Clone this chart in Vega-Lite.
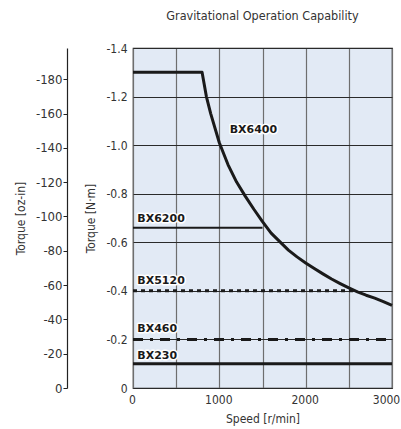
{
  "$schema": "https://vega.github.io/schema/vega-lite/v6.json",
  "autosize": "none",
  "width": 259,
  "height": 340,
  "padding": {"left": 133, "top": 48, "right": 9, "bottom": 41},
  "background": "white",
  "config": {
    "view": {"fill": "#e2eaf5", "stroke": "#222", "strokeWidth": 1.2},
    "font": "'DejaVu Sans Condensed', 'Roboto', sans-serif",
    "axis": {"labelFont": "'DejaVu Sans Condensed', 'Roboto', sans-serif", "titleFont": "'DejaVu Sans Condensed', 'Roboto', sans-serif", "labelFontSize": 12, "titleFontSize": 12, "titleFontWeight": "normal", "labelColor": "#333", "titleColor": "#333"}
  },
  "title": {"text": "Gravitational Operation Capability", "anchor": "middle", "fontSize": 12.5, "fontWeight": "normal", "font": "'DejaVu Sans Condensed', 'Roboto', sans-serif", "color": "#333", "offset": 20},
  "datasets": {
    "lines": [
      {"model": "BX6400", "speed": 0, "torque": -1.3},
      {"model": "BX6400", "speed": 800, "torque": -1.3},
      {"model": "BX6400", "speed": 850, "torque": -1.2},
      {"model": "BX6400", "speed": 900, "torque": -1.13},
      {"model": "BX6400", "speed": 1000, "torque": -1.01},
      {"model": "BX6400", "speed": 1100, "torque": -0.92},
      {"model": "BX6400", "speed": 1200, "torque": -0.848},
      {"model": "BX6400", "speed": 1300, "torque": -0.79},
      {"model": "BX6400", "speed": 1400, "torque": -0.736},
      {"model": "BX6400", "speed": 1500, "torque": -0.685},
      {"model": "BX6400", "speed": 1600, "torque": -0.638},
      {"model": "BX6400", "speed": 1700, "torque": -0.603},
      {"model": "BX6400", "speed": 1800, "torque": -0.568},
      {"model": "BX6400", "speed": 1900, "torque": -0.54},
      {"model": "BX6400", "speed": 2000, "torque": -0.515},
      {"model": "BX6400", "speed": 2100, "torque": -0.492},
      {"model": "BX6400", "speed": 2200, "torque": -0.47},
      {"model": "BX6400", "speed": 2300, "torque": -0.449},
      {"model": "BX6400", "speed": 2400, "torque": -0.43},
      {"model": "BX6400", "speed": 2500, "torque": -0.412},
      {"model": "BX6400", "speed": 2600, "torque": -0.396},
      {"model": "BX6400", "speed": 2700, "torque": -0.382},
      {"model": "BX6400", "speed": 2800, "torque": -0.37},
      {"model": "BX6400", "speed": 2900, "torque": -0.356},
      {"model": "BX6400", "speed": 3000, "torque": -0.34},
      {"model": "BX6200", "speed": 0, "torque": -0.66},
      {"model": "BX6200", "speed": 1500, "torque": -0.66},
      {"model": "BX5120", "speed": 0, "torque": -0.4},
      {"model": "BX5120", "speed": 2550, "torque": -0.4},
      {"model": "BX460", "speed": 0, "torque": -0.2},
      {"model": "BX460", "speed": 3000, "torque": -0.2},
      {"model": "BX230", "speed": 0, "torque": -0.1},
      {"model": "BX230", "speed": 3000, "torque": -0.1}
    ],
    "labels": [
      {"model": "BX6400", "speed": 1120, "torque": -1.062},
      {"model": "BX6200", "speed": 50, "torque": -0.696},
      {"model": "BX5120", "speed": 50, "torque": -0.442},
      {"model": "BX460", "speed": 50, "torque": -0.243},
      {"model": "BX230", "speed": 50, "torque": -0.132}
    ],
    "ozaxis": [
      {"oz": 0},
      {"oz": -198.2}
    ]
  },
  "layer": [
    {
      "layer": [
        {
          "data": {"name": "lines"},
          "transform": [{"filter": "datum.model == 'BX6400'"}],
          "mark": {"type": "line", "color": "#1a1a1a", "strokeWidth": 3, "strokeJoin": "round"},
          "encoding": {
            "x": {"field": "speed", "type": "quantitative", "scale": {"domain": [0, 3000], "nice": false},
              "axis": {"title": "Speed [r/min]", "values": [0, 500, 1000, 1500, 2000, 2500, 3000], "labelExpr": "datum.value % 1000 == 0 ? datum.value : ''", "labelOffset": {"condition": {"test": "datum.value == 3000", "value": -6}, "value": -1}, "ticks": false, "domain": false, "grid": true, "gridColor": "#6e6e6e", "gridWidth": 1.2, "gridOpacity": 1, "labelPadding": 6, "titlePadding": 8, "labelFlush": false}},
            "y": {"field": "torque", "type": "quantitative", "scale": {"domain": [-1.4, 0], "reverse": true, "nice": false},
              "axis": {"title": "Torque [N·m]", "values": [-1.4, -1.2, -1.0, -0.8, -0.6, -0.4, -0.2, 0], "labelExpr": "datum.value == 0 ? '0' : '-' + format(-datum.value, '.1f')", "ticks": false, "domain": false, "grid": true, "gridColor": "#2a2a2a", "gridWidth": 1.2, "gridOpacity": 1, "labelPadding": 6, "titlePadding": 8, "labelFlush": false}}
          }
        },
        {
          "data": {"name": "lines"},
          "transform": [{"filter": "datum.model == 'BX6200'"}],
          "mark": {"type": "line", "color": "#1a1a1a", "strokeWidth": 2},
          "encoding": {"x": {"field": "speed", "type": "quantitative"}, "y": {"field": "torque", "type": "quantitative"}}
        },
        {
          "data": {"name": "lines"},
          "transform": [{"filter": "datum.model == 'BX5120'"}],
          "mark": {"type": "line", "color": "#1a1a1a", "strokeWidth": 3, "strokeDash": [4, 4], "strokeCap": "butt"},
          "encoding": {"x": {"field": "speed", "type": "quantitative"}, "y": {"field": "torque", "type": "quantitative"}}
        },
        {
          "data": {"name": "lines"},
          "transform": [{"filter": "datum.model == 'BX460'"}],
          "mark": {"type": "line", "color": "#1a1a1a", "strokeWidth": 3, "strokeDash": [10, 7, 3, 7], "strokeCap": "butt"},
          "encoding": {"x": {"field": "speed", "type": "quantitative"}, "y": {"field": "torque", "type": "quantitative"}}
        },
        {
          "data": {"name": "lines"},
          "transform": [{"filter": "datum.model == 'BX230'"}],
          "mark": {"type": "line", "color": "#1a1a1a", "strokeWidth": 3},
          "encoding": {"x": {"field": "speed", "type": "quantitative"}, "y": {"field": "torque", "type": "quantitative"}}
        },
        {
          "data": {"name": "labels"},
          "mark": {"type": "text", "align": "left", "baseline": "middle", "font": "DejaVu Sans", "fontWeight": "bold", "fontSize": 11, "stroke": "white", "strokeWidth": 3, "strokeJoin": "round", "fill": "white"},
          "encoding": {"x": {"field": "speed", "type": "quantitative"}, "y": {"field": "torque", "type": "quantitative"}, "text": {"field": "model"}}
        },
        {
          "data": {"name": "labels"},
          "mark": {"type": "text", "align": "left", "baseline": "middle", "font": "DejaVu Sans", "fontWeight": "bold", "fontSize": 11, "fill": "#1a1a1a"},
          "encoding": {"x": {"field": "speed", "type": "quantitative"}, "y": {"field": "torque", "type": "quantitative"}, "text": {"field": "model"}}
        }
      ]
    },
    {
      "data": {"name": "ozaxis"},
      "mark": {"type": "point", "opacity": 0},
      "encoding": {
        "y": {"field": "oz", "type": "quantitative", "scale": {"domain": [-198.2, 0], "reverse": true, "nice": false},
          "axis": {"orient": "left", "offset": 66, "title": "Torque [oz-in]", "values": [-180, -160, -140, -120, -100, -80, -60, -40, -20, 0], "labelExpr": "datum.value == 0 ? '0' : '-' + format(-datum.value, 'd')", "labelFontSize": 13, "grid": false, "ticks": true, "tickSize": 4, "tickColor": "#222", "domain": true, "domainColor": "#222", "domainWidth": 1.2, "labelPadding": 1, "titlePadding": 8, "labelFlush": false}}
      }
    }
  ],
  "resolve": {"scale": {"y": "independent"}}
}
